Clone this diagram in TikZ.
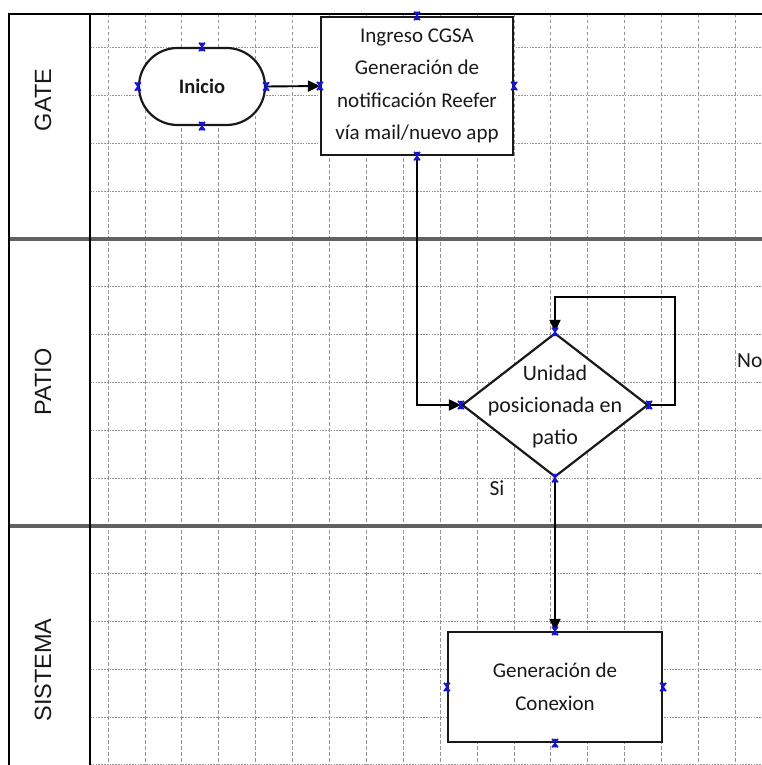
\documentclass[tikz,border=0pt]{standalone}
\usepackage{fontspec}
\setmainfont{Carlito}
\newfontfamily\lanefont{Liberation Sans}
\usetikzlibrary{shapes.geometric,shapes.misc,arrows.meta}

\begin{document}
\begin{tikzpicture}[x=1pt,y=-1pt,
  vgrid/.style={draw=black!42,line width=0.8pt,dash pattern=on 3.5pt off 2.5pt},
  hgrid/.style={draw=black!42,line width=0.8pt,dash pattern=on 1.6pt off 1.2pt},
  lanesep/.style={draw=black!62,line width=4pt},
  frameline/.style={draw=black,line width=2pt},
  lanelabel/.style={rotate=90,font=\lanefont\fontsize{23.5}{24}\selectfont,text=black!90},
  shapeline/.style={draw=black!90,line width=2.2pt,fill=white},
  procbox/.style={shapeline,rectangle,inner sep=0pt,align=center,
    font=\fontsize{21}{32.5}\selectfont,text=black!90},
  startstop/.style={shapeline,rounded rectangle,inner sep=0pt,
    font=\bfseries\fontsize{20.5}{24}\selectfont,text=black!90},
  decision/.style={shapeline,diamond,inner sep=0pt},
  dectext/.style={align=center,font=\fontsize{22}{32}\selectfont,text=black!90},
  branchlabel/.style={font=\fontsize{21.5}{24}\selectfont,text=black!90},
  flowline/.style={draw=black,line width=1.9pt},
  arrowline/.style={flowline,-{Triangle[length=12pt,width=11pt]}},
  cpt/.pic={
    \fill[fill={rgb,255:red,20;green,20;blue,210}]
      (-3,-4.2) -- (3,-4.2) -- (-3,4.2) -- (3,4.2) -- cycle;
    \draw[draw={rgb,255:red,20;green,20;blue,210},line width=1.4pt]
      (-3,-4.2) -- (3,4.2) (-3,4.2) -- (3,-4.2);}
]
\useasboundingbox (0,0) rectangle (762,765);
\clip (0,0) rectangle (762,765);
\fill[white] (0,0) rectangle (762,765);

% background grid of the swimlanes
\foreach \k in {0,...,17}
  \draw[vgrid] ({108+36.9*\k},14) -- ({108+36.9*\k},765);
\foreach \k in {1,...,16}
  \draw[hgrid] (90,{47.8*\k}) -- (762,{47.8*\k});

% lane separators and frame
\draw[lanesep] (9,239) -- (762,239);
\draw[lanesep] (9,526) -- (762,526);
\draw[frameline] (9,765) -- (9,14) -- (762,14);
\draw[frameline] (90,14) -- (90,765);

% lane titles
\node[lanelabel] (lgate) at (43,100) {GATE};
\node[lanelabel] (lpatio) at (43,382) {PATIO};
\node[lanelabel] (lsis) at (43,670) {SISTEMA};

% flow elements
\node[startstop,minimum width=126pt,minimum height=77pt] (ini) at (202,86.5) {Inicio};
\node[procbox,minimum width=192pt,minimum height=138pt] (b1) at (417,86)
  {Ingreso CGSA\\Generación de\\notificación Reefer\\vía mail/nuevo app};
\node[decision,minimum width=186pt,minimum height=144pt,shape aspect=1.29] (dec) at (555,405) {};
\node[dectext] (dect) at (555,407) {Unidad\\posicionada en\\patio};
\node[procbox,minimum width=214pt,minimum height=110pt] (b2) at (555,687)
  {Generación de\\Conexion};

% branch labels
\node[branchlabel] (si) at (497,488) {Si};
\node[branchlabel,anchor=west,inner sep=0pt] (no) at (737,361) {No};

% connectors
\coordinate (loop) at (675,297);
\draw[arrowline] (ini.east) -- (b1.west);
\draw[arrowline] (b1.south) |- (dec.west);
\draw[arrowline] (dec.east) -| (loop) -| (dec.north);
\draw[arrowline] (dec.south) -- (b2.north);

% connection points
\foreach \n in {ini,b1,dec,b2}
  \foreach \a in {north,south,east,west}
    \pic at (\n.\a) {cpt};
\end{tikzpicture}
\end{document}
